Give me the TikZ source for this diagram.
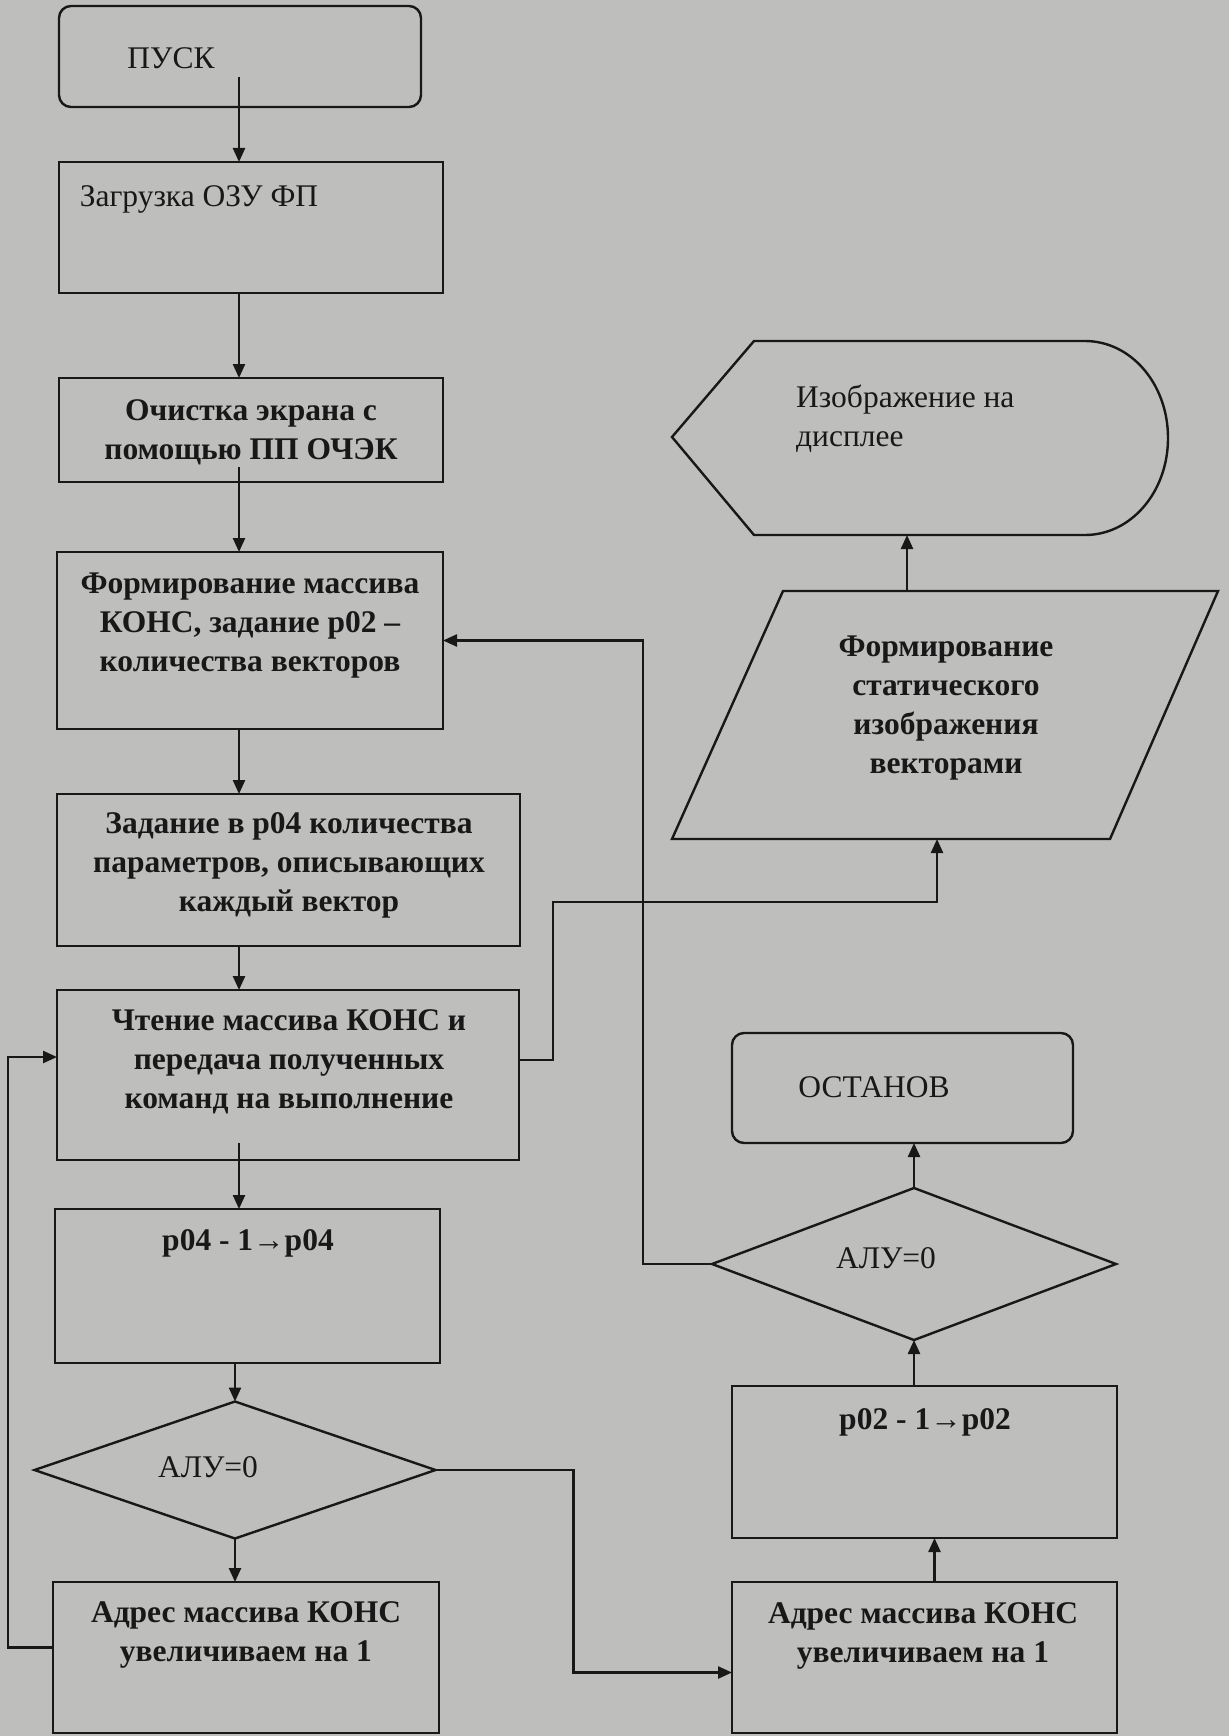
\documentclass[tikz,border=0pt]{standalone}
\usepackage{fontspec}
\setmainfont{Liberation Serif}
\usetikzlibrary{shapes.geometric,arrows.meta}
\definecolor{paper}{RGB}{190,190,188}
\definecolor{ink}{RGB}{24,24,24}
\tikzset{
  base/.style={draw=ink,line width=2.4pt,inner sep=0pt,outer sep=0pt},
  block/.style={base,rectangle},
  term/.style={base,rectangle,rounded corners=12pt},
  cond/.style={base,diamond},
  txt/.style={text=ink,font=\fontsize{31.5}{39}\selectfont,align=center,inner sep=0pt},
  btxt/.style={txt,font=\fontsize{31.5}{39}\selectfont\bfseries},
  arr/.style={draw=ink,line width=2.4pt,-{Triangle[length=14pt,width=12pt]}}
}
\begin{document}
\begin{tikzpicture}[x=1pt,y=-1pt]
\path[use as bounding box,fill=paper] (0,0) rectangle (1229,1736);
\coordinate (colL) at (239,0);

\node[term,minimum width=362pt,minimum height=101pt] (pusk) at (240,56.5) {};
\node[txt] (pusk-t) at (171,58) {ПУСК};
\node[block,minimum width=384pt,minimum height=131pt] (load) at (251,227.5) {};
\node[txt] (load-t) at (199,199) {Загрузка ОЗУ ФП};
\node[block,minimum width=384pt,minimum height=104pt] (clear) at (251,430) {};
\node[btxt] (clear-t) at (251,432) {Очистка экрана с\\помощью ПП ОЧЭК};
\node[block,minimum width=386pt,minimum height=177pt] (form) at (250,640.5) {};
\node[btxt] (form-t) at (250,626) {Формирование массива\\КОНС, задание р02 –\\количества векторов};
\node[block,minimum width=463pt,minimum height=152pt] (param) at (288.5,870) {};
\node[btxt] (param-t) at (289,865) {Задание в р04 количества\\параметров, описывающих\\каждый вектор};
\node[block,minimum width=462pt,minimum height=170pt] (read) at (288,1075) {};
\node[btxt] (read-t) at (289,1062) {Чтение массива КОНС и\\передача полученных\\команд на выполнение};
\node[block,minimum width=385pt,minimum height=154pt] (dec4) at (247.5,1286) {};
\node[btxt] (dec4-t) at (248,1243) {р04 - 1→р04};
\node[cond,minimum width=401pt,minimum height=137pt] (alu1) at (235,1470) {};
\node[txt] (alu1-t) at (208,1467) {АЛУ=0};
\node[block,minimum width=386pt,minimum height=151pt] (incA) at (246,1657.5) {};
\node[btxt] (incA-t) at (246,1635) {Адрес массива КОНС\\увеличиваем на 1};

\draw[base] (672,437) -- (754,341) -- (1085,341) .. controls (1131,341) and (1168,384) .. (1168,438)
  .. controls (1168,492) and (1131,535) .. (1085,535) -- (754,535) -- cycle;
\node[txt,anchor=west,align=left] (disp-t) at (796,419) {Изображение на\\дисплее};
\coordinate (disp-bot) at (907,535);
\draw[base] (783,591) -- (1218,591) -- (1110,839) -- (672,839) -- cycle;
\node[btxt] (fsi-t) at (946,708) {Формирование\\статического\\изображения\\векторами};
\coordinate (fsi-top) at (907,591);
\coordinate (fsi-bot) at (937,839);
\node[term,minimum width=341pt,minimum height=110pt] (stop) at (902.5,1088) {};
\node[txt] (stop-t) at (874,1087) {ОСТАНОВ};
\node[cond,minimum width=404pt,minimum height=152pt] (alu2) at (914,1264) {};
\node[txt] (alu2-t) at (886,1258) {АЛУ=0};
\node[block,minimum width=385pt,minimum height=152pt] (dec2) at (924.5,1462) {};
\node[btxt] (dec2-t) at (925,1422) {р02 - 1→р02};
\node[block,minimum width=385pt,minimum height=151pt] (incB) at (924.5,1657.5) {};
\node[btxt] (incB-t) at (923,1636) {Адрес массива КОНС\\увеличиваем на 1};

\draw[arr] ([yshift=30pt]colL |- pusk.south) -- (colL |- load.north);
\draw[arr] (colL |- load.south) -- (colL |- clear.north);
\draw[arr] ([yshift=15pt]colL |- clear.south) -- (colL |- form.north);
\draw[arr] (colL |- form.south) -- (colL |- param.north);
\draw[arr] (colL |- param.south) -- (colL |- read.north);
\draw[arr] ([yshift=17pt]colL |- read.south) -- (colL |- dec4.north);
\draw[arr] (alu1.north |- dec4.south) -- (alu1.north);
\draw[arr] (alu1.south) -- (alu1.south |- incA.north);
\draw[arr] ([yshift=10pt]incA.west) -- ++(-45,0) |- ([yshift=18pt]read.west);
\draw[arr] ([yshift=15pt]read.east) -- ++(34,0) -- ++(0,-158) -| (fsi-bot);
\draw[arr] (fsi-top) -- (disp-bot);
\draw[arr] (alu2.west) -- ++(-69,0) |- (form.east);
\draw[arr] (alu1.east) -- ++(138,0) |- ([yshift=-15pt]incB.west);
\draw[arr] ([xshift=10pt]incB.north) -- ([xshift=10pt]dec2.south);
\draw[arr] (alu2.south |- dec2.north) -- (alu2.south);
\draw[arr] (alu2.north) -- (alu2.north |- stop.south);
\end{tikzpicture}
\end{document}
